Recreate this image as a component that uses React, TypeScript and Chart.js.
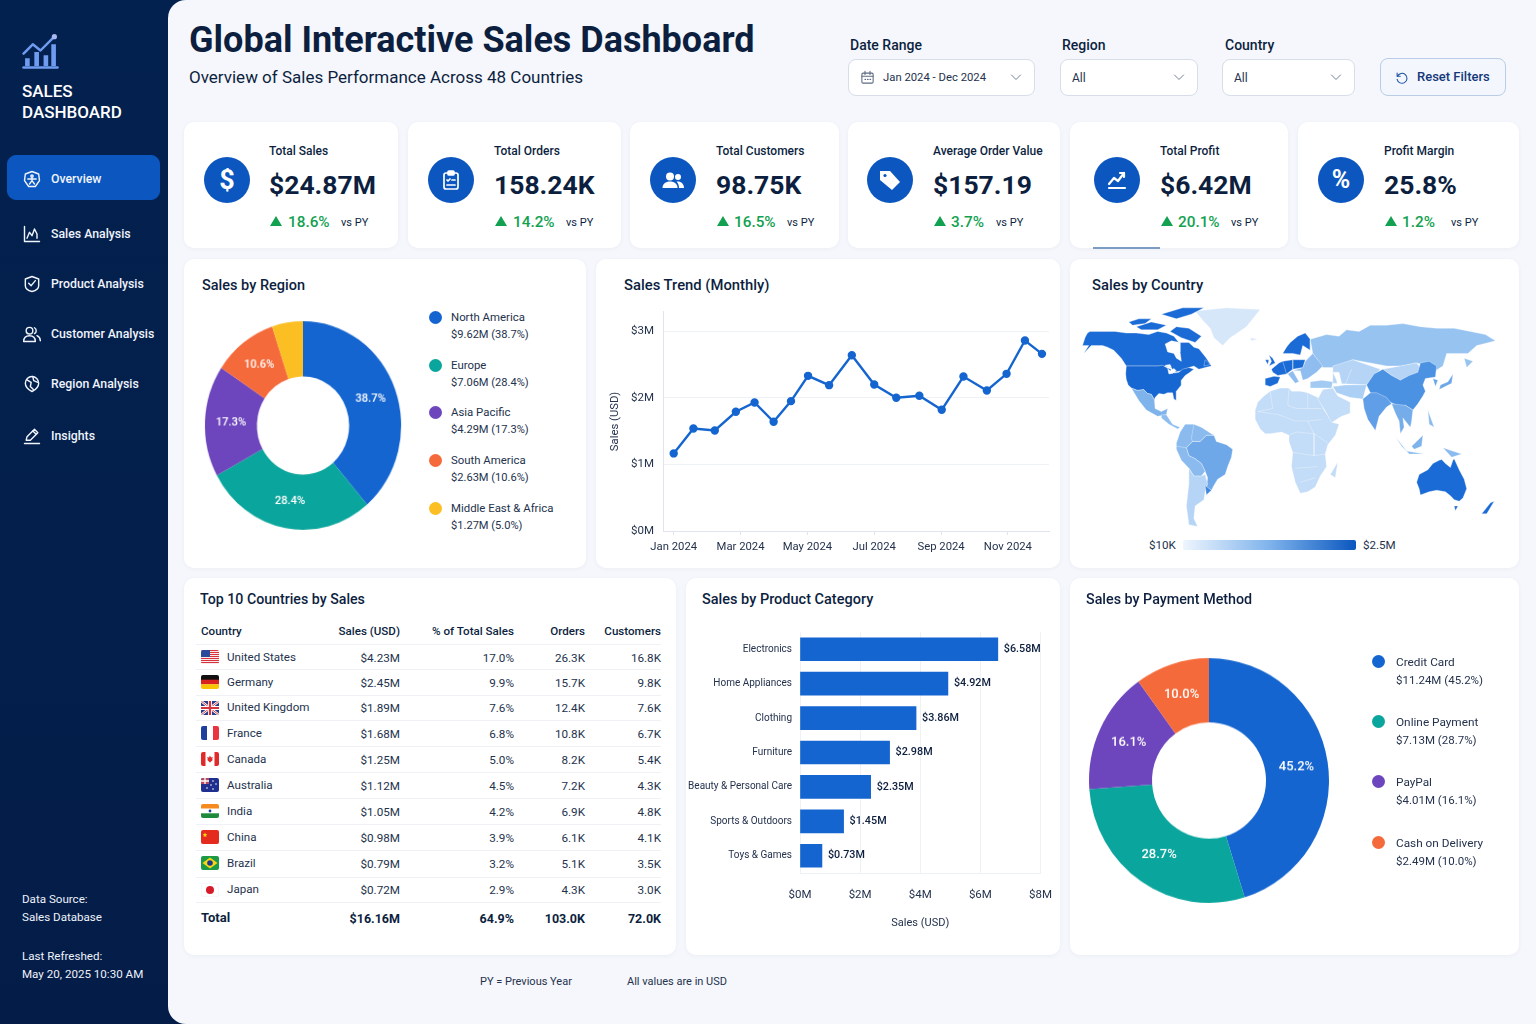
import { useEffect, useRef, type ReactNode } from "react";
import { Chart, registerables } from "chart.js";

Chart.register(...registerables);
Chart.defaults.font.family = "Roboto, sans-serif";

const INK = "#0d1f3f";
const BODY = "#24324d";
const BLUE = "#1565d0";
const GREEN = "#12a150";
const GRID = "#eef1f6";

// KPI cards
const kpiTitles = ["Total Sales", "Total Orders", "Total Customers", "Average Order Value", "Total Profit", "Profit Margin"];
const kpiValues = ["$24.87M", "158.24K", "98.75K", "$157.19", "$6.42M", "25.8%"];
const kpiChanges = ["18.6%", "14.2%", "16.5%", "3.7%", "20.1%", "1.2%"];

// sales by region
const regionNames = ["North America", "Europe", "Asia Pacific", "South America", "Middle East & Africa"];
const regionSales = [9.62, 7.06, 4.29, 2.63, 1.27];
const regionShare = ["38.7%", "28.4%", "17.3%", "10.6%", "5.0%"];
const regionAmounts = ["$9.62M", "$7.06M", "$4.29M", "$2.63M", "$1.27M"];

// monthly trend, x is months since Jan 2024
const trendMonths = [0, 0.59, 1.23, 1.86, 2.42, 2.99, 3.51, 4.02, 4.65, 5.33, 6, 6.66, 7.35, 8.02, 8.67, 9.37, 9.96, 10.51, 11.02];
const trendSales = [1.165, 1.54, 1.51, 1.79, 1.93, 1.64, 1.95, 2.33, 2.19, 2.64, 2.2, 2.0, 2.03, 1.82, 2.32, 2.11, 2.36, 2.86, 2.66];
const trendTicks = ["Jan 2024", "Mar 2024", "May 2024", "Jul 2024", "Sep 2024", "Nov 2024"];

// top 10 table
const tableCountries = ["United States", "Germany", "United Kingdom", "France", "Canada", "Australia", "India", "China", "Brazil", "Japan"];
const tableSales = ["$4.23M", "$2.45M", "$1.89M", "$1.68M", "$1.25M", "$1.12M", "$1.05M", "$0.98M", "$0.79M", "$0.72M"];
const tableShare = ["17.0%", "9.9%", "7.6%", "6.8%", "5.0%", "4.5%", "4.2%", "3.9%", "3.2%", "2.9%"];
const tableOrders = ["26.3K", "15.7K", "12.4K", "10.8K", "8.2K", "7.2K", "6.9K", "6.1K", "5.1K", "4.3K"];
const tableCustomers = ["16.8K", "9.8K", "7.6K", "6.7K", "5.4K", "4.3K", "4.8K", "4.1K", "3.5K", "3.0K"];
const tableTotals = ["$16.16M", "64.9%", "103.0K", "72.0K"];

// product categories
const productNames = ["Electronics", "Home Appliances", "Clothing", "Furniture", "Beauty & Personal Care", "Sports & Outdoors", "Toys & Games"];
const productSales = [6.58, 4.92, 3.86, 2.98, 2.35, 1.45, 0.73];

// payment methods
const paymentNames = ["Credit Card", "Online Payment", "PayPal", "Cash on Delivery"];
const paymentSales = [11.24, 7.13, 4.01, 2.49];
const paymentShare = ["45.2%", "28.7%", "16.1%", "10.0%"];
const paymentAmounts = ["$11.24M", "$7.13M", "$4.01M", "$2.49M"];

// rough country outlines, lon/lat pairs
const canada = [[-153,65],[-151,68],[-149,69],[-138,69],[-129,69],[-120,68],[-112,68],[-102,67],[-95,69],[-88,68],[-82,66],[-78,62],[-70,62],[-66,59],[-62,58],[-58,54],[-56,52],[-52,47],[-57,46],[-62,45],[-66,47],[-70,46],[-76,44],[-82,43],[-84,46],[-89,47],[-95,47],[-120,47],[-124,52],[-130,57],[-135,59],[-139,60],[-148,60],[-154,55],[-150,60],[-155,60]];
const hudsonBay = [[-89,61],[-84,63],[-77,62],[-77,56],[-76,50],[-80,52],[-82,55],[-87,56]];
const baffin = [[-80,72],[-70,71],[-60,66],[-65,62],[-76,65],[-85,69]];
const ellesmere = [[-92,80],[-75,84],[-58,84],[-68,80],[-80,77]];
const victoria = [[-112,72],[-100,75],[-88,73],[-95,70],[-108,70]];
const banks = [[-118,75],[-110,77],[-100,77],[-105,74],[-115,73]];
const newfoundland = [[-57,51],[-53,48],[-58,47]];
const usa = [[-120,47],[-95,47],[-91,47.5],[-88,46],[-84.5,45],[-82,42.5],[-78,43],[-75,45],[-70,46],[-66,45],[-70,42.5],[-73,41],[-76,38],[-76,35],[-80,31],[-80,27],[-80,25],[-82,26],[-83,30],[-87,30],[-90,29],[-94,29.5],[-97,27],[-97.5,25.5],[-100,29],[-103,29.5],[-106,32],[-111,31.5],[-116,33],[-118.5,35],[-120,38.5],[-120.5,42]];
const lakeSuperior = [[-89,47.5],[-85,48],[-84,46.3],[-87,46.6]];
const lakeHuron = [[-87,45.5],[-85,44],[-82,45.5],[-80,44],[-83,42.3],[-86,42]];
const mexico = [[-116,33],[-111,31.5],[-106,32],[-103,29.5],[-100,29],[-97.5,25.5],[-97,20],[-92,18],[-87,20],[-88,16],[-95,15],[-104,19],[-110,25]];
const centralAmerica = [[-92,16],[-88,16],[-83,10],[-77,8],[-79,7],[-86,10],[-92,14]];
const greenland = [[-65,82],[-40,84],[-13,83],[-20,76],[-24,72],[-33,67],[-37,65],[-43,60],[-50,65],[-53,71],[-60,77]];
const iceland = [[-21,65],[-15,64],[-20,63]];
const britain = [[-6,54],[-3,52],[-1,49],[-6,47],[-4,50]];
const ireland = [[-9,51],[-6,51],[-7,48]];
const iberia = [[-9,39],[-2,40.5],[3,40],[1,36],[-5,34],[-9,35]];
const westEurope = [[-4,45],[2,49],[5,50],[13,51],[23,51],[21,46],[13,45],[8,42],[1,41],[-3,43]];
const scandinavia = [[5,55],[8,59],[11,62],[17,66],[23,68],[27,64],[27,57],[21,60],[19,54],[13,55]];
const eastEurope = [[23,50],[29,55],[37,47],[32,43],[25,39],[21,38],[19,44],[13,44],[21,46]];
const italy = [[9,42],[13,44],[18,37],[15,36]];
const turkey = [[27,37],[36,38],[45,37],[44,33],[33,33],[27,33]];
const russia = [[27,64],[40,67],[50,66],[56,70],[66,69],[75,73],[88,73],[101,74],[115,72],[128,71],[142,71],[155,69],[167,67],[175,63],[165,61],[160,60],[153,55],[145,55],[136,55],[133,47],[125,43],[121,47],[112,49],[100,47],[88,47],[75,49],[61,51],[52,48],[45,46],[37,46],[29,55]];
const kamchatka = [[150,52],[157,50],[152,46]];
const centralAsia = [[45,47],[61,51],[83,45],[72,35],[45,36]];
const mongolia = [[85,45],[112,49],[117,44],[99,37]];
const china = [[72,35],[78,42],[85,45],[92,41],[99,38],[106,41],[113,43],[115,49],[122,50],[128,47],[127,40],[119,39],[117,35],[119,31],[117,28],[113,23],[109,19],[103,22],[99,21],[91,24],[82,27],[75,30]];
const india = [[69,26],[75,30],[80,30],[88,27],[92,23],[88,21],[82,15],[79,6],[73,13],[70,20]];
const arabia = [[33,26],[37,32],[45,33],[49,28],[59,24],[59,17],[52,15],[44,11],[40,17]];
const iran = [[45,34],[55,35],[72,35],[69,26],[59,27],[48,30]];
const caspian = [[45,43],[50,43],[52,36],[49,34],[48,38]];
const blackSea = [[29,40],[38,41],[40,38.5],[30,38]];
const indochina = [[92,23],[103,22],[109,19],[108,12],[107,8],[101,14],[102,8],[99,4],[98,12],[95,17]];
const sumatra = [[95,2],[105,-8],[100,-4]];
const java = [[104,-7],[118,-9],[106,-9]];
const borneo = [[108,-4],[117,3],[116,-4],[110,-6]];
const philippines = [[121,19],[126,8],[122,10]];
const newGuinea = [[133,-5],[148,-9],[140,-11]];
const japan = [[130,32],[140,36],[141,42],[137,37],[131,35]];
const korea = [[125,39],[129,38],[127,34]];
const africa = [[-17,13],[-17,19],[-15,24],[-10,28],[-5,31],[3,33],[10,33],[12,31],[19,31],[25,30],[33,27],[38,19],[45,11],[50,10],[47,3],[41,-3],[39,-9],[40,-17],[35,-23],[31,-30],[25,-33],[19,-34],[15,-27],[12,-17],[13,-8],[10,-1],[10,3],[4,5],[-5,4],[-9,4],[-13,7]];
const madagascar = [[43,-22],[49,-14],[47,-24]];
const brazil = [[-72,-5],[-67,-1],[-61,-1],[-56,3],[-50,3],[-48,-1],[-40,-3],[-35,-6],[-36,-11],[-39,-17],[-41,-22],[-47,-25],[-50,-29],[-52,-32],[-56,-30],[-55,-24],[-57,-20],[-60,-15],[-65,-12],[-70,-10]];
const andes = [[-80,-2],[-77,5],[-73,10],[-66,10],[-60,8],[-52,4],[-50,3],[-56,3],[-61,-1],[-67,-1],[-72,-5],[-70,-10],[-65,-12],[-60,-15],[-57,-20],[-60,-23],[-66,-23],[-70,-18],[-76,-13],[-80,-6]];
const argentina = [[-70,-18],[-66,-23],[-60,-23],[-57,-22],[-55,-28],[-57,-33],[-58,-38],[-65,-42],[-66,-50],[-63,-55],[-70,-54],[-72,-42],[-70,-28]];
const uruguay = [[-57,-29],[-52,-32],[-56,-35]];
const australia = [[112,-27],[114,-22],[121,-19],[125,-15],[130,-13],[132,-12.5],[135,-15],[139,-17.5],[141,-13],[142,-12],[146,-19],[150,-25],[152,-31],[149,-37],[146,-39],[142,-38],[139,-35.5],[135,-33],[128,-32],[122,-33],[115,-35],[114,-31]];
const tasmania = [[142,-42],[145,-42],[143,-45]];
const newZealand = [[164,-47],[171,-40],[174,-39],[168,-47]];

// inner frontier lines, open paths
const mapBorders = [
  [[10,33],[9,22],[16,20],[25,20],[25,30]],
  [[25,20],[36,20]],
  [[-15,18],[2,16],[15,12],[25,12],[36,13]],
  [[10,3],[16,5],[30,4],[41,-2]],
  [[13,-8],[30,-10],[39,-9]],
  [[15,-18],[33,-17]],
  [[19,-27],[31,-24]],
  [[-5,31],[-3,20],[-15,18]],
  [[25,12],[30,4],[30,-10]],
  [[-72,-5],[-80,-4]],
  [[-66,10],[-68,1],[-67,-1]],
  [[55,35],[60,45]],
  [[13,51],[13,45]],
  [[5,50],[8,42]],
];

const mapShapes = [
  greenland, iceland, africa, madagascar, russia, kamchatka, centralAsia, mongolia, arabia, iran, turkey,
  eastEurope, italy, westEurope, iberia, britain, ireland, scandinavia, china, india, indochina, sumatra, java, borneo,
  philippines, newGuinea, japan, korea, canada, hudsonBay, baffin, ellesmere, victoria, banks, newfoundland, usa, lakeSuperior, lakeHuron, mexico,
  centralAmerica, brazil, andes, argentina, uruguay, australia, tasmania, newZealand, caspian, blackSea,
];

const DEEP = "#1a6bd6";
const mapColours = new Map<number[][], string>([
  [greenland, "#d6e7fa"], [iceland, "#d6e7fa"], [africa, "#c3dcf7"], [madagascar, "#c3dcf7"], [russia, "#97c3f1"], [kamchatka, "#97c3f1"],
  [centralAsia, "#b6d5f6"], [mongolia, "#b6d5f6"], [arabia, "#c3dcf7"], [iran, "#abcff5"], [turkey, "#a3caf3"], [eastEurope, "#8fbdf0"], [italy, "#8fbdf0"],
  [westEurope, DEEP], [iberia, DEEP], [britain, DEEP], [ireland, DEEP], [scandinavia, DEEP], [china, "#4c92e3"], [india, "#609fe7"], [indochina, "#74ade9"],
  [sumatra, "#8abaee"], [java, "#8abaee"], [borneo, "#7fb3ec"], [philippines, "#8abaee"], [newGuinea, "#8abaee"], [japan, "#6aa6e8"], [korea, "#6aa6e8"],
  [canada, DEEP], [hudsonBay, "#ffffff"], [baffin, DEEP], [ellesmere, DEEP], [victoria, DEEP], [banks, DEEP], [newfoundland, DEEP], [usa, "#1767d2"],
  [lakeSuperior, "#ffffff"], [lakeHuron, "#ffffff"], [caspian, "#ffffff"], [blackSea, "#ffffff"],
  [mexico, "#7fb3ec"], [centralAmerica, "#8fbdf0"], [brazil, "#6fa8e8"], [andes, "#8abaee"], [argentina, "#b6d5f6"], [uruguay, "#3f86dd"],
  [australia, DEEP], [tasmania, DEEP], [newZealand, DEEP],
]);

const pieColours = [BLUE, "#0aa59c", "#6d45bd", "#f56a3a", "#fbbf24"];

function T({ x, y, size = 12, weight = 400, color = BODY, align = "left", children }: { x: number; y: number; size?: number; weight?: number; color?: string; align?: "left" | "right" | "center"; children: ReactNode }) {
  const shift = align === "right" ? "-100%" : align === "center" ? "-50%" : "0";
  return (
    <div style={{ position: "absolute", left: x, top: y, transform: `translate(${shift},-50%)`, fontSize: size, fontWeight: weight, color, whiteSpace: "nowrap", lineHeight: 1.2 }}>
      {children}
    </div>
  );
}

function Box({ x, y, w, h, r = 10, bg = "#fff", border, children }: { x: number; y: number; w: number; h: number; r?: number; bg?: string; border?: string; children?: ReactNode }) {
  return <div style={{ position: "absolute", left: x, top: y, width: w, height: h, borderRadius: r, background: bg, border, boxSizing: "border-box", boxShadow: border ? undefined : "0 1px 4px rgba(30,50,90,0.05)" }}>{children}</div>;
}

// dw/dh stretch the drawing when shown, the reference's doughnuts are slightly oval
function ChartBox({ x, y, w, h, dw, dh, config }: { x: number; y: number; w: number; h: number; dw?: number; dh?: number; config: any }) {
  const ref = useRef<HTMLCanvasElement>(null);
  useEffect(() => {
    const chart = new Chart(ref.current!, config);
    return () => chart.destroy();
  }, [config]);
  return <canvas ref={ref} width={w} height={h} style={{ position: "absolute", left: x, top: y, width: dw ?? w, height: dh ?? h }} />;
}

// percent labels sitting on the doughnut slices
function sliceLabels(labels: string[], size: number) {
  return {
    id: "sliceLabels",
    afterDatasetsDraw(chart: Chart) {
      const ctx = chart.ctx;
      ctx.save();
      ctx.font = `500 ${size}px Roboto`;
      ctx.fillStyle = "#fff";
      ctx.textAlign = "center";
      ctx.textBaseline = "middle";
      chart.getDatasetMeta(0).data.forEach((arc: any, i: number) => {
        if (parseFloat(labels[i]) < 6) return;
        const p = arc.getCenterPoint();
        ctx.fillText(labels[i], p.x, p.y);
      });
      ctx.restore();
    },
  };
}

const barValueLabels = {
  id: "barValueLabels",
  afterDatasetsDraw(chart: Chart) {
    const ctx = chart.ctx;
    ctx.save();
    ctx.font = "500 10.8px Roboto";
    ctx.fillStyle = INK;
    ctx.textBaseline = "middle";
    chart.getDatasetMeta(0).data.forEach((bar: any, i: number) => {
      ctx.fillText(`$${productSales[i].toFixed(2)}M`, bar.x + 6, bar.y);
    });
    ctx.restore();
  },
};

function doughnut(values: number[], labels: string[], size: number, cutout: string) {
  return {
    type: "doughnut",
    data: { labels, datasets: [{ data: values, backgroundColor: pieColours.slice(0, values.length), borderWidth: 0 }] },
    options: {
      responsive: false,
      animation: false,
      cutout,
      layout: { padding: 4 },
      plugins: { legend: { display: false }, tooltip: { enabled: false } },
    },
    plugins: [sliceLabels(labels, size)],
  };
}

const regionConfig = doughnut(regionSales, regionShare, 11.5, "47%");
const paymentConfig = doughnut(paymentSales, paymentShare, 13, "47.5%");

const trendConfig = {
  type: "line",
  data: {
    datasets: [{
      data: trendMonths.map((m, i) => ({ x: m, y: trendSales[i] })),
      borderColor: BLUE,
      backgroundColor: BLUE,
      borderWidth: 2.4,
      pointRadius: 3,
      tension: 0,
    }],
  },
  options: {
    responsive: false,
    animation: false,
    layout: { padding: { top: 0, right: 11 } },
    plugins: { legend: { display: false }, tooltip: { enabled: false } },
    scales: {
      x: {
        type: "linear",
        min: -0.32,
        max: 11.23,
        afterBuildTicks: (axis: any) => { axis.ticks = trendTicks.map((_, i) => ({ value: i * 2 })); },
        afterFit: (axis: any) => { axis.height = 30; },
        grid: { drawOnChartArea: false, tickLength: 4, color: "#dfe4ee" },
        border: { color: "#dfe4ee" },
        ticks: { color: BODY, font: { size: 11.3 }, padding: 5, maxRotation: 0, autoSkip: false, callback: (v: number) => trendTicks[v / 2] },
      },
      y: {
        min: 0,
        max: 3.29,
        afterBuildTicks: (axis: any) => { axis.ticks = [0, 1, 2, 3].map((value) => ({ value })); },
        afterFit: (axis: any) => { axis.width = 63; },
        grid: { color: GRID, drawTicks: false },
        border: { color: "#dfe4ee" },
        title: { display: true, text: "Sales (USD)", color: BODY, font: { size: 11.3 }, padding: { top: 8, bottom: 0 } },
        ticks: { color: BODY, font: { size: 11.5 }, padding: 9, callback: (v: number) => `$${v}M` },
      },
    },
  },
};

const productConfig = {
  type: "bar",
  data: {
    labels: productNames,
    datasets: [{ data: productSales, backgroundColor: BLUE, barThickness: 23 }],
  },
  options: {
    indexAxis: "y",
    responsive: false,
    animation: false,
    layout: { padding: { top: 9, right: 14 } },
    plugins: { legend: { display: false }, tooltip: { enabled: false } },
    scales: {
      x: {
        min: 0,
        max: 8,
        afterFit: (axis: any) => { axis.height = 62; },
        grid: { color: GRID, drawTicks: false },
        border: { color: GRID },
        title: { display: true, text: "Sales (USD)", color: BODY, font: { size: 11 }, padding: { top: 8, bottom: 5 } },
        ticks: { stepSize: 2, color: BODY, font: { size: 11.5 }, padding: 15, maxRotation: 0, callback: (v: number) => `$${v}M` },
      },
      y: {
        afterFit: (axis: any) => { axis.width = 120; },
        grid: { display: false, drawTicks: false },
        border: { color: GRID },
        ticks: { color: BODY, font: { size: 10 }, padding: 8, autoSkip: false },
      },
    },
  },
  plugins: [barValueLabels],
};

const mapConfig = {
  type: "scatter",
  data: {
    // chart.js paints the first dataset last, so frontiers go first and shapes are reversed
    datasets: [
      ...mapBorders.map((path) => ({
        data: path.map(([x, y]) => ({ x, y })),
        showLine: true,
        fill: false,
        borderColor: "rgba(255,255,255,0.55)",
        borderWidth: 0.6,
        pointRadius: 0,
        tension: 0,
      })),
      ...[...mapShapes].reverse().map((shape) => ({
        data: [...shape, shape[0]].map(([x, y]) => ({ x, y })),
        showLine: true,
        fill: "shape",
        backgroundColor: mapColours.get(shape),
        borderColor: "rgba(255,255,255,0.55)",
        borderWidth: 0.6,
        pointRadius: 0,
        tension: 0,
      })),
    ],
  },
  options: {
    responsive: false,
    animation: false,
    plugins: { legend: { display: false }, tooltip: { enabled: false } },
    scales: {
      x: { display: false, min: -161, max: 186.6 },
      y: { display: false, min: -57.3, max: 89 },
    },
  },
};

const Svg = ({ x, y, s, children, vb = 24 }: { x: number; y: number; s: number; vb?: number; children: ReactNode }) => (
  <svg viewBox={`0 0 ${vb} ${vb}`} width={s} height={s} style={{ position: "absolute", left: x, top: y }} fill="none" stroke="currentColor" strokeWidth={1.7} strokeLinecap="round" strokeLinejoin="round">{children}</svg>
);

const navLabels = ["Overview", "Sales Analysis", "Product Analysis", "Customer Analysis", "Region Analysis", "Insights"];
const navY = [179, 234, 284, 334, 384, 436];
const navIcons: ReactNode[] = [
  <><path d="M12 3l8 3 1 8-5 7H8l-5-7 1-8z" /><circle cx="12" cy="8.5" r="1.4" /><path d="M7 12h10M12 10v4M12 14l-3 4M12 14l3 4" /></>,
  <><path d="M3 3v18h18" /><path d="M6 17l3-7 3 4 3-8 3 6v5" /></>,
  <><path d="M4 6l8-3 8 3v8c0 4-4 6-8 7-4-1-8-3-8-7z" /><path d="M8 11l3 3 5-6" /></>,
  <><circle cx="9" cy="8" r="4" /><path d="M2 21c0-5 3-7 7-7s7 2 7 7z" /><path d="M15 4.5a4 4 0 010 7M18 14c2 1 4 3 4 6" /></>,
  <><path d="M12 3a8 8 0 018 8c0 5-4 8-8 10-4-2-8-5-8-10a8 8 0 018-8z" /><path d="M6 7l5 3-1 5 4 4M13 3l1 5 5 2" /></>,
  <><path d="M3 21h18" /><path d="M5 17l1-4 9-9 4 4-9 9z" /><path d="M13 6l4 4" /></>,
];

const kpiCards = [[184, 214], [408, 213], [630, 209], [848, 212], [1070, 218], [1298, 221]];
const kpiIconX = [227, 451, 673, 890, 1117, 1341];
const kpiTextX = [269, 494, 716, 933, 1160, 1384];
const kpiPctX = [288, 513, 734, 951, 1178, 1402];
const kpiVsX = [341, 566, 787, 996, 1231, 1451];

const kpiIcons: ReactNode[] = [
  <text x="12" y="21" textAnchor="middle" fontSize="27" fontWeight="700" fill="#fff" stroke="none" fontFamily="Roboto">$</text>,
  <><rect x="5" y="5" width="14" height="16" rx="2" /><rect x="9" y="3" width="6" height="4" rx="1" fill="#fff" /><path d="M8 12l1 1 2-2M13 12h3M8 17h8" /></>,
  <g fill="#fff" stroke="none"><circle cx="9" cy="8.5" r="4" /><circle cx="17" cy="9" r="3" /><path d="M1.5 20c0-4 3-6.5 7.5-6.5s7.5 2.5 7.5 6.5z" /><path d="M18 20c0-3-1-5-2.5-6.3 4-.7 7.5 1.8 7.5 6.3z" /></g>,
  <><path d="M2 3h10l10 11-8 8L2 12z" fill="#fff" stroke="none" /><circle cx="7" cy="7.5" r="1.6" fill="#0b57bf" stroke="none" /></>,
  <><path d="M4 16l5-6 4 3 6-8" strokeWidth={2.2} /><path d="M15 5h4v4M4 20h16" strokeWidth={2.2} /></>,
  <text x="12" y="20" textAnchor="middle" fontSize="25" fontWeight="700" fill="#fff" stroke="none" fontFamily="Roboto">%</text>,
];

const flags: ReactNode[] = [
  <><rect width="18" height="14" fill="#fff" />{[0, 2, 4, 6, 8, 10, 12].map((y) => <rect key={y} y={y} width="18" height="1.1" fill="#d8323c" />)}<rect width="9" height="7" fill="#2c4a9a" /></>,
  <><rect width="18" height="5" fill="#111" /><rect y="4.7" width="18" height="4.7" fill="#d9231f" /><rect y="9.3" width="18" height="4.7" fill="#f7c600" /></>,
  <><rect width="18" height="14" fill="#2b3f87" /><path d="M0 0l18 14M18 0L0 14" stroke="#fff" strokeWidth="2.4" /><path d="M0 0l18 14M18 0L0 14" stroke="#d8323c" strokeWidth="0.9" /><path d="M9 0v14M0 7h18" stroke="#fff" strokeWidth="4" /><path d="M9 0v14M0 7h18" stroke="#d8323c" strokeWidth="2.2" /></>,
  <><rect width="6" height="14" fill="#1f3f9e" /><rect x="6" width="6" height="14" fill="#fff" /><rect x="12" width="6" height="14" fill="#ea3440" /></>,
  <><rect width="18" height="14" fill="#fff" /><rect width="4.5" height="14" fill="#e02b2b" /><rect x="13.5" width="4.5" height="14" fill="#e02b2b" /><path d="M9 3.5l1 2 1.8-.5-.7 2.4.9.4L9 10.5 6 7.8l.9-.4L6.2 5l1.8.5z" fill="#e02b2b" /></>,
  <><rect width="18" height="14" fill="#1f2f8f" /><rect width="8" height="6" fill="#b74a5e" /><path d="M4 0v6M0 3h8" stroke="#fff" strokeWidth="1.3" />{[[12, 3], [15, 6], [12, 11], [6, 10], [10, 7]].map(([x, y]) => <circle key={x * y} cx={x} cy={y} r="0.8" fill="#fff" />)}</>,
  <><rect width="18" height="4.7" fill="#f58a1f" /><rect y="4.7" width="18" height="4.7" fill="#fff" /><rect y="9.3" width="18" height="4.7" fill="#1d8a3c" /><circle cx="9" cy="7" r="1.4" fill="#1f3f9e" /></>,
  <><rect width="18" height="14" fill="#e52a1e" /><path d="M4 2.5l.7 1.6 1.7.1-1.3 1.1.4 1.7L4 6.2l-1.5.8.4-1.7-1.3-1.1 1.7-.1z" fill="#fbd116" /></>,
  <><rect width="18" height="14" fill="#1c9a46" /><path d="M9 1.5L16.5 7 9 12.5 1.5 7z" fill="#f8d616" /><circle cx="9" cy="7" r="2.8" fill="#1f3a8a" /></>,
  <><rect x="0.25" y="0.25" width="17.5" height="13.5" rx="2" fill="#fff" stroke="#e6e9f0" strokeWidth="0.5" /><circle cx="9" cy="7" r="4" fill="#d71a2a" /></>,
];

const rowY = [657, 682, 707.5, 733, 759, 785, 811, 837, 863, 889.5];
const chevron = (x: number) => <Svg x={x} y={71} s={12}><path d="M3 8l9 9 9-9" stroke="#5c6a82" /></Svg>;

function Legend({ names, amounts, shares, dotX, textX, nameY, gap, size }: { names: string[]; amounts: string[]; shares: string[]; dotX: number; textX: number; nameY: number[]; gap: number; size: number }) {
  return (
    <>
      {names.map((n, i) => (
        <div key={n}>
          <div style={{ position: "absolute", left: dotX - 6.5, top: nameY[i] - 6.5, width: 13, height: 13, borderRadius: "50%", background: pieColours[i] }} />
          <T x={textX} y={nameY[i] + 0.5} size={size}>{n}</T>
          <T x={textX} y={nameY[i] + 0.5 + gap} size={size - 0.3}>{`${amounts[i]} (${shares[i]})`}</T>
        </div>
      ))}
    </>
  );
}

export default function App() {
  return (
    <div style={{ position: "fixed", left: 0, top: 0, width: 1536, height: 1024, overflow: "hidden", background: "#03204f", fontFamily: "Roboto, sans-serif" }}>
      {/* sidebar */}
      <div style={{ position: "absolute", left: 0, top: 0, width: 190, height: 1024, background: "linear-gradient(180deg,#03214f,#041d48)" }} />
      <div style={{ color: "#6f9cf0" }}>
        <Svg x={22} y={32} s={37}>
          <path d="M1 14l6-6 5 4 8-8" strokeWidth={1.6} />
          <circle cx="21" cy="3" r="1.7" fill="#a9b9ef" stroke="none" />
          <path d="M2 22v-5h3v5M8 22v-9h3v9M14 22v-7h3v7M19 22V8h3v14z" fill="#6f9cf0" stroke="none" />
          <path d="M1 23h22" />
        </Svg>
      </div>
      <T x={22} y={91} size={17} weight={500} color="#fff">SALES</T>
      <T x={22} y={112} size={17} weight={500} color="#fff">DASHBOARD</T>
      <Box x={7} y={155} w={153} h={45} r={9} bg="#0b57bf" border="1px solid #0b57bf" />
      {navLabels.map((label, i) => (
        <div key={label} style={{ color: "#f0f4fc" }}>
          <Svg x={22} y={navY[i] - 10} s={20}>{navIcons[i]}</Svg>
          <T x={51} y={navY[i]} size={12.3} weight={500} color="#f0f4fc">{label}</T>
        </div>
      ))}
      <T x={22} y={899.5} size={11.6} color="#eef2fa">Data Source:</T>
      <T x={22} y={917.5} size={11.6} color="#eef2fa">Sales Database</T>
      <T x={22} y={956.5} size={11.6} color="#eef2fa">Last Refreshed:</T>
      <T x={22} y={974.5} size={11.6} color="#eef2fa">May 20, 2025 10:30 AM</T>

      {/* main panel */}
      <div style={{ position: "absolute", left: 168, top: 0, width: 1368, height: 1024, background: "#f5f7fc", borderRadius: "18px 0 0 18px" }} />
      <T x={189} y={41} size={36} weight={700} color={INK}>Global Interactive Sales Dashboard</T>
      <T x={189} y={77} size={17} color={INK}>Overview of Sales Performance Across 48 Countries</T>

      {/* filters */}
      <T x={850} y={45} size={14} weight={500} color={INK}>Date Range</T>
      <Box x={848} y={59} w={187} h={37} r={8} border="1px solid #d7dde9" />
      <div style={{ color: "#5c6a82" }}>
        <Svg x={860} y={70} s={15}><rect x="3" y="5" width="18" height="16" rx="2" /><path d="M3 10h18M8 2v5M16 2v5M8 15h1M12 15h1M16 15h1" /></Svg>
      </div>
      <T x={883} y={77.5} size={11.3}>Jan 2024 - Dec 2024</T>
      {chevron(1010)}
      <T x={1062} y={45} size={14} weight={500} color={INK}>Region</T>
      <Box x={1060} y={59} w={138} h={37} r={8} border="1px solid #d7dde9" />
      <T x={1072} y={77.5} size={12}>All</T>
      {chevron(1173)}
      <T x={1225} y={45} size={14} weight={500} color={INK}>Country</T>
      <Box x={1222} y={59} w={133} h={37} r={8} border="1px solid #d7dde9" />
      <T x={1234} y={77.5} size={12}>All</T>
      {chevron(1330)}
      <Box x={1380} y={58} w={126} h={38} r={8} bg="#f3f7fd" border="1.5px solid #b9cde6" />
      <div style={{ color: "#1a4fa0" }}>
        <Svg x={1394} y={70} s={15}><path d="M5 5v5h5" /><path d="M5.5 10A8 8 0 1 1 5 15" /></Svg>
      </div>
      <T x={1417} y={77} size={13} weight={500} color="#14387a">Reset Filters</T>

      {/* KPI cards */}
      {kpiCards.map(([x, w], i) => (
        <div key={kpiTitles[i]}>
          <Box x={x} y={122} w={w} h={126} />
          <div style={{ position: "absolute", left: kpiIconX[i] - 23, top: 157, width: 46, height: 46, borderRadius: "50%", background: "#0b57bf", color: "#fff" }}>
            <Svg x={11} y={11} s={24}>{kpiIcons[i]}</Svg>
          </div>
          <T x={kpiTextX[i]} y={150.5} size={12} weight={500} color={INK}>{kpiTitles[i]}</T>
          <T x={kpiTextX[i]} y={185} size={26.5} weight={700} color={INK}>{kpiValues[i]}</T>
          <div style={{ position: "absolute", left: kpiTextX[i] + 1, top: 216, width: 0, height: 0, borderLeft: "6.5px solid transparent", borderRight: "6.5px solid transparent", borderBottom: "10px solid " + GREEN }} />
          <T x={kpiPctX[i]} y={222} size={15.3} weight={500} color={GREEN}>{kpiChanges[i]}</T>
          <T x={kpiVsX[i]} y={223} size={11} color={INK}>vs PY</T>
        </div>
      ))}
      <div style={{ position: "absolute", left: 1093, top: 247, width: 67, height: 1.5, background: "#7d9cc4" }} />

      {/* region */}
      <Box x={184} y={259} w={402} h={309} />
      <T x={202} y={286} size={14.5} weight={500} color={INK}>Sales by Region</T>
      <ChartBox x={201} y={317} w={210} h={210} dw={204} dh={217} config={regionConfig} />
      <Legend names={regionNames} amounts={regionAmounts} shares={regionShare} dotX={435} textX={451} nameY={[317, 365, 412, 460, 508]} gap={17.5} size={11.4} />

      {/* trend */}
      <Box x={596} y={259} w={464} h={309} />
      <T x={624} y={286} size={14.8} weight={500} color={INK}>Sales Trend (Monthly)</T>
      <ChartBox x={600} y={296} w={460} h={265} config={trendConfig} />

      {/* map */}
      <Box x={1070} y={259} w={449} h={309} />
      <T x={1092} y={286} size={14.8} weight={500} color={INK}>Sales by Country</T>
      <ChartBox x={1075} y={300} w={435} h={230} config={mapConfig} />
      <T x={1149} y={545.5} size={11.6}>$10K</T>
      <div style={{ position: "absolute", left: 1183, top: 540, width: 173, height: 10, borderRadius: 2, background: "linear-gradient(90deg,#eef5fd,#7fb3ec 50%,#0b57bf)" }} />
      <T x={1363} y={545.5} size={11.6}>$2.5M</T>

      {/* table */}
      <Box x={184} y={578} w={492} h={377} />
      <T x={200} y={600} size={14.2} weight={500} color={INK}>Top 10 Countries by Sales</T>
      <T x={201} y={631.5} size={11.6} weight={500} color={INK}>Country</T>
      <T x={400} y={631.5} size={11.6} weight={500} color={INK} align="right">Sales (USD)</T>
      <T x={514} y={631.5} size={11.6} weight={500} color={INK} align="right">% of Total Sales</T>
      <T x={585} y={631.5} size={11.6} weight={500} color={INK} align="right">Orders</T>
      <T x={661} y={631.5} size={11.6} weight={500} color={INK} align="right">Customers</T>
      {tableCountries.map((c, i) => (
        <div key={c}>
          <div style={{ position: "absolute", left: 196, width: 465, top: rowY[i] - 12.8, height: 1, background: "#eff1f6" }} />
          <svg viewBox="0 0 18 14" width={18} height={14} style={{ position: "absolute", left: 201, top: rowY[i] - 7, borderRadius: 2 }}>{flags[i]}</svg>
          <T x={227} y={rowY[i] + 0.5} size={11.6}>{c}</T>
          <T x={400} y={rowY[i] + 0.5} size={11.7} align="right">{tableSales[i]}</T>
          <T x={514} y={rowY[i] + 0.5} size={11.7} align="right">{tableShare[i]}</T>
          <T x={585} y={rowY[i] + 0.5} size={11.7} align="right">{tableOrders[i]}</T>
          <T x={661} y={rowY[i] + 0.5} size={11.7} align="right">{tableCustomers[i]}</T>
        </div>
      ))}
      <div style={{ position: "absolute", left: 196, width: 465, top: 902, height: 1, background: "#eff1f6" }} />
      <T x={201} y={917.5} size={13} weight={700} color={INK}>Total</T>
      <T x={400} y={917.5} size={12.5} weight={700} color={INK} align="right">{tableTotals[0]}</T>
      <T x={514} y={917.5} size={12.5} weight={700} color={INK} align="right">{tableTotals[1]}</T>
      <T x={585} y={917.5} size={12.5} weight={700} color={INK} align="right">{tableTotals[2]}</T>
      <T x={661} y={917.5} size={12.5} weight={700} color={INK} align="right">{tableTotals[3]}</T>

      {/* products */}
      <Box x={686} y={578} w={374} h={377} />
      <T x={702} y={600} size={14.5} weight={500} color={INK}>Sales by Product Category</T>
      <ChartBox x={680} y={618} w={387} h={317} config={productConfig} />

      {/* payment */}
      <Box x={1070} y={578} w={449} h={377} />
      <T x={1086} y={600} size={14.3} weight={500} color={INK}>Sales by Payment Method</T>
      <ChartBox x={1085} y={654} w={248} h={248} dw={248} dh={253} config={paymentConfig} />
      <Legend names={paymentNames} amounts={paymentAmounts} shares={paymentShare} dotX={1378} textX={1396} nameY={[661, 721, 781, 842]} gap={19.5} size={11.8} />

      <T x={480} y={981.5} size={11}>PY = Previous Year</T>
      <T x={627} y={981.5} size={11}>All values are in USD</T>
    </div>
  );
}
